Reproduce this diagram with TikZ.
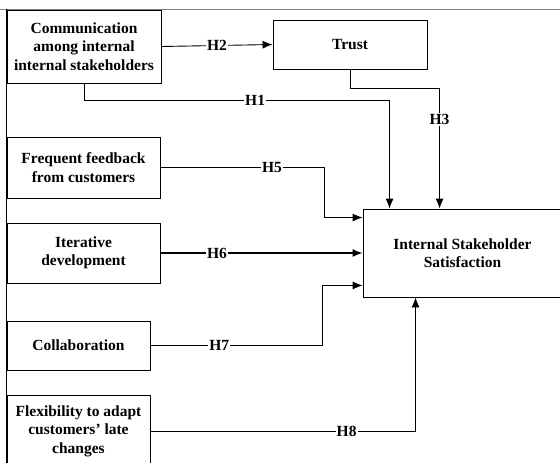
\documentclass[tikz,border=0pt]{standalone}
\usepackage{fontspec}
\setmainfont{Liberation Serif}
\usetikzlibrary{positioning,calc,arrows.meta}

\begin{document}
\begin{tikzpicture}[
    x=1pt, y=-1pt,
    box/.style={draw, line width=0.9pt, align=center, inner sep=0pt, font=\bfseries\fontsize{15.5}{18.5}\selectfont},
    arrow/.style={-{Latex[length=10pt,width=8pt]}, line width=0.9pt},
    hyp/.style={fill=white, inner sep=1pt, font=\bfseries\fontsize{15.5}{17}\selectfont},
    frame/.style={line width=1pt}
  ]
    \clip (0,0) rectangle (560,463);
    \fill[white] (0,0) rectangle (560,463);

    % outer frame
    \draw[frame, gray] (0,9) -- (560,9);
    \draw[frame] (6,9) -- (6,463);

    \node[box, minimum width=154pt, minimum height=73pt] (comm) at (84,46.5) {Communication\\among internal\\internal stakeholders};
    \node[box, minimum width=154pt, minimum height=49pt] (trust) at (350,44.5) {Trust};
    \node[box, minimum width=153pt, minimum height=61pt] (feedback) at (83.5,167.5) {Frequent feedback\\from customers};
    \node[box, minimum width=153pt, minimum height=60pt] (iterative) at (83.5,253) {Iterative\\development};
    \node[box, minimum width=143pt, minimum height=49pt] (collab) at (78.5,345.5) {Collaboration};
    \node[box, minimum width=143pt, minimum height=72pt] (flex) at (78.5,431) {Flexibility to adapt\\customers' late\\changes};
    \node[box, minimum width=199pt, minimum height=88pt] (iss) at (462.5,253) {Internal Stakeholder\\Satisfaction};

    \draw[arrow] (comm.east) -- node[hyp]{H2} (trust.west);
    \draw[arrow] (comm.south) -- ++(0,17) -| node[hyp, pos=0.28]{H1} ($(iss.north west)+(27,0)$);
    \draw[arrow] (trust.south) -- ++(0,19) -| node[hyp, pos=0.63]{H3} ($(iss.north west)+(77,0)$);
    \draw[arrow] (feedback.east) -| node[hyp, pos=0.34]{H5} ($(iss.north west)+(-38,9)$) -- ($(iss.north west)+(0,9)$);
    \draw[arrow, line width=1.5pt] (iterative.east) -- node[hyp, pos=0.28]{H6} (iss.west);
    \draw[arrow] (collab.east) -| node[hyp, pos=0.2]{H7} ($(iss.south west)+(-40,-12)$) -- ($(iss.south west)+(0,-12)$);
    \draw[arrow] (flex.east) -| node[hyp, pos=0.37]{H8} ($(iss.south west)+(53,0)$);
  \end{tikzpicture}
\end{document}
